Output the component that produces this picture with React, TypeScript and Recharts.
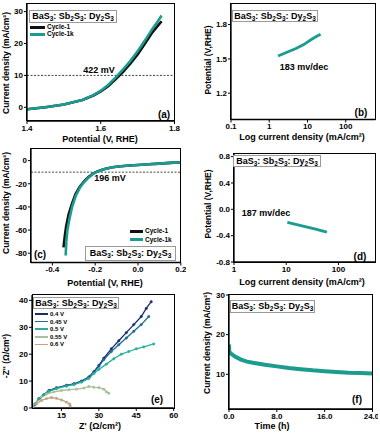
import React from 'react';
import { LineChart, Line, XAxis, YAxis, ReferenceLine } from 'recharts';

const FONT = '"Liberation Sans", Arial, sans-serif';
const TEAL = '#1a9c8f';

// (a) OER polarisation
const oerV = [1.4, 1.45, 1.5, 1.55, 1.58, 1.6, 1.62, 1.64, 1.66, 1.68, 1.7, 1.72, 1.74, 1.755, 1.765];
const oerCycle1 = [-0.6, 0.0, 0.9, 2.3, 3.7, 5.0, 6.6, 8.8, 11.0, 13.7, 16.6, 20.0, 23.5, 25.6, 27.0];
const oerCycle1k = [-0.6, 0.0, 0.9, 2.3, 3.8, 5.2, 7.0, 9.3, 11.8, 14.5, 17.6, 21.0, 24.6, 27.0, 28.8];

// (b) OER Tafel
const tafelOerJ = [1.7, 3, 5, 8, 12, 17, 22];
const tafelOerV = [1.525, 1.56, 1.59, 1.625, 1.665, 1.695, 1.715];

// (c) HER polarisation
const herVk = [-0.338, -0.335, -0.33, -0.32, -0.308, -0.29, -0.27, -0.254, -0.23, -0.21, -0.19, -0.16, -0.12, -0.08, -0.04, 0.0, 0.05, 0.1, 0.15, 0.2];
const herCycle1k = [-82, -70, -60, -50, -40, -30, -23, -19, -14.5, -11.5, -9.5, -7.5, -5.8, -4.9, -4.3, -3.8, -3.2, -2.6, -2.0, -1.5];
const herV1 = [-0.348, -0.342, -0.336, -0.325, -0.31, -0.292, -0.272, -0.25, -0.23, -0.21, -0.19, -0.16, -0.12, -0.08, -0.04, 0.0, 0.05, 0.1, 0.15, 0.2];
const herCycle1 = [-75, -65, -57, -47, -38, -29, -22.5, -17.5, -14, -11.3, -9.4, -7.5, -5.8, -4.9, -4.3, -3.8, -3.2, -2.6, -2.0, -1.5];

// (d) HER Tafel
const tafelHerJ = [10.5, 20, 35, 60];
const tafelHerV = [-0.198, -0.25, -0.298, -0.345];

// (e) Nyquist, [Z', -Z'']
const nyq04 = [[3.5, 0], [4.5, 1.5], [6, 3.5], [8, 5], [10, 6.5], [13, 7.5], [17, 8.4], [20, 9], [23, 10], [26, 11.5], [28, 13.5], [30, 15.8], [32, 18.5], [35, 22], [38, 25], [41, 28], [44, 31], [47, 34], [49, 37], [51, 39.5]];
const nyq045 = [[3.5, 0], [4.5, 1.5], [6, 3.5], [8, 5], [10, 6.4], [13, 7.4], [17, 8.3], [20, 8.9], [23, 9.9], [26, 11.4], [28, 13.3], [30, 15.5], [32, 18], [35, 21], [38, 23.5], [41, 26], [44, 28.5], [47, 31], [50, 34]];
const nyq05 = [[3.5, 0], [4.5, 1.4], [6, 3.4], [8, 4.9], [10, 6.2], [13, 7.2], [17, 8.1], [20, 8.7], [23, 9.6], [26, 11], [28, 12.8], [30, 14.3], [33, 16.3], [36, 18.3], [39, 20], [42, 21], [45, 22], [48, 22.7], [52, 23.8]];
const nyq055 = [[3.5, 0], [5, 2], [7, 4], [9, 5.2], [12, 6], [15, 6.5], [18, 6.8], [21, 7], [24, 7.4], [26, 8], [28, 7.7], [30, 7.6], [32, 7], [33, 6], [34, 5.5]];
const nyq06 = [[3.5, 0], [5, 1.5], [7, 2.8], [9, 3.5], [11, 3.9], [13, 3.6], [15, 3], [17, 2.2], [18.3, 1.5], [18.5, 0.8]];

// (f) stability
const stabT = [0, 0.05, 0.5, 1, 2, 3, 4, 6, 8, 10, 12, 14, 16, 18, 20, 22, 24];
const stabJ = [17.5, 15.6, 15, 14.5, 13.7, 13.2, 12.9, 12.4, 12, 11.6, 11.3, 11, 10.8, 10.6, 10.4, 10.3, 10.2];

const nyqSeries = [
  { name: '0.4 V', pts: nyq04, color: '#1b2d6e' },
  { name: '0.45 V', pts: nyq045, color: '#1f6c98' },
  { name: '0.5 V', pts: nyq05, color: '#2bb09e' },
  { name: '0.55 V', pts: nyq055, color: '#a3c29a' },
  { name: '0.6 V', pts: nyq06, color: '#c2a385' },
];

const zip = (xs: number[], ys: number[]) => xs.map((x, i) => ({ x, y: ys[i] }));
const pairs = (p: number[][]) => p.map(([x, y]) => ({ x, y }));

type Rect = { l: number; t: number; r: number; b: number };
const YW = 30, MT = 4, MR = 6, XH = 20;

const tickStyle = { fontSize: 8, fontWeight: 700, fill: '#000', fontFamily: FONT };
const axisProps = {
  tick: tickStyle,
  tickSize: 3,
  tickMargin: 1,
  axisLine: { stroke: '#000', strokeWidth: 1.3 },
  tickLine: { stroke: '#000', strokeWidth: 1 },
  allowDataOverflow: true,
};
const f1 = (v: number) => v.toFixed(1);

function Panel({ rect, children }: { rect: Rect; children: React.ReactNode }) {
  const w = rect.r - rect.l + YW + MR;
  const h = rect.b - rect.t + MT + XH;
  return (
    <>
      <div style={{ position: 'absolute', left: rect.l - YW, top: rect.t - MT }}>
        <LineChart width={w} height={h} margin={{ top: MT, right: MR, left: 0, bottom: 0 }}>
          {children}
        </LineChart>
      </div>
      <div
        style={{
          position: 'absolute',
          left: rect.l - 0.65,
          top: rect.t - 0.65,
          width: rect.r - rect.l + 1.3,
          height: rect.b - rect.t + 1.3,
          border: '1.3px solid #000',
          boxSizing: 'border-box',
          pointerEvents: 'none',
        }}
      />
    </>
  );
}

function T({ x, y, size = 9, rot = false, left = false, children }: { x: number; y: number; size?: number; rot?: boolean; left?: boolean; children: React.ReactNode }) {
  return (
    <div
      style={{
        position: 'absolute',
        left: x,
        top: y,
        transform: `translate(${left ? '0' : '-50%'},-50%)${rot ? ' rotate(-90deg)' : ''}`,
        fontFamily: FONT,
        fontWeight: 700,
        fontSize: size,
        lineHeight: 1,
        whiteSpace: 'nowrap',
        color: '#000',
      }}
    >
      {children}
    </div>
  );
}

const sub = { fontSize: '0.72em', verticalAlign: '-0.25em' };
function Chem() {
  return (
    <span>
      BaS<span style={sub}>3</span>: Sb<span style={sub}>2</span>S<span style={sub}>3</span>: Dy<span style={sub}>2</span>S<span style={sub}>3</span>
    </span>
  );
}

function Box({ x, y, w, h }: { x: number; y: number; w: number; h: number }) {
  return (
    <div
      style={{
        position: 'absolute',
        left: x,
        top: y,
        width: w,
        height: h,
        border: '1px solid #9a9a9a',
        background: '#fff',
        boxSizing: 'border-box',
        fontFamily: FONT,
        fontWeight: 700,
        fontSize: 9,
        display: 'flex',
        alignItems: 'center',
        justifyContent: 'center',
        whiteSpace: 'nowrap',
      }}
    >
      <Chem />
    </div>
  );
}

function Key({ x, y, color, label, w = 15, th = 3, size = 6.5 }: { x: number; y: number; color: string; label: string; w?: number; th?: number; size?: number }) {
  return (
    <>
      <div style={{ position: 'absolute', left: x, top: y - th / 2, width: w, height: th, background: color }} />
      <T x={x + w + 2} y={y} size={size} left>
        {label}
      </T>
    </>
  );
}

const A: Rect = { l: 26.5, t: 3.5, r: 174, b: 120.5 };
const B: Rect = { l: 230.5, t: 4, r: 375, b: 119.5 };
const C: Rect = { l: 30.5, t: 148.5, r: 180.3, b: 262 };
const D: Rect = { l: 234, t: 154, r: 375, b: 262 };
const E: Rect = { l: 32.3, t: 295, r: 174, b: 408 };
const F: Rect = { l: 228.5, t: 295, r: 372, b: 409 };

export default function App() {
  return (
    <div style={{ position: 'absolute', left: 0, top: 0, width: 380, height: 434, background: '#fff', overflow: 'hidden' }}>
      {/* (a) */}
      <Panel rect={A}>
        <XAxis type="number" dataKey="x" domain={[1.4, 1.8]} ticks={[1.4, 1.6, 1.8]} tickFormatter={f1} height={XH} {...axisProps} />
        <YAxis type="number" dataKey="y" domain={[-4.3, 32.4]} ticks={[0, 10, 20, 30]} width={YW} {...axisProps} />
        <ReferenceLine y={10} stroke="#444" strokeDasharray="2 1.5" strokeWidth={1} />
        <Line data={zip(oerV, oerCycle1)} dataKey="y" stroke="#111" strokeWidth={2.6} dot={false} isAnimationActive={false} />
        <Line data={zip(oerV, oerCycle1k)} dataKey="y" stroke={TEAL} strokeWidth={2.6} dot={false} isAnimationActive={false} />
      </Panel>
      <T x={6} y={63} size={8.5} rot>Current density (mA/cm²)</T>
      <T x={100} y={139}>Potential (V, RHE)</T>
      <Box x={29} y={10} w={88} h={13} />
      <Key x={30} y={27} color="#111" label="Cycle-1" />
      <Key x={30} y={34} color={TEAL} label="Cycle-1k" />
      <T x={99} y={70}>422 mV</T>
      <T x={164} y={115} size={10}>(a)</T>

      {/* (b) */}
      <Panel rect={B}>
        <XAxis type="number" dataKey="x" scale="log" domain={[0.1, 600]} ticks={[0.1, 1, 10, 100]} tickFormatter={(v: number) => String(v)} height={XH} {...axisProps} />
        <YAxis type="number" dataKey="y" domain={[0.97, 1.98]} ticks={[1.2, 1.5, 1.8]} tickFormatter={f1} width={YW} {...axisProps} />
        <Line data={zip(tafelOerJ, tafelOerV)} dataKey="y" stroke={TEAL} strokeWidth={2.8} dot={false} isAnimationActive={false} />
      </Panel>
      <T x={208} y={60} size={8.5} rot>Potential (V,RHE)</T>
      <T x={302} y={137}>Log current density (mA/cm²)</T>
      <Box x={232} y={10} w={86} h={12} />
      <T x={304} y={67}>183 mv/dec</T>
      <T x={361} y={113} size={10}>(b)</T>

      {/* (c) */}
      <Panel rect={C}>
        <XAxis type="number" dataKey="x" domain={[-0.5, 0.2]} ticks={[-0.4, -0.2, 0, 0.2]} tickFormatter={f1} height={XH} {...axisProps} />
        <YAxis type="number" dataKey="y" domain={[-88, 10]} ticks={[-80, -60, -40, -20, 0]} width={YW} {...axisProps} />
        <ReferenceLine y={-10} stroke="#444" strokeDasharray="2 1.5" strokeWidth={1} />
        <Line data={zip(herV1, herCycle1)} dataKey="y" stroke="#111" strokeWidth={2.6} dot={false} isAnimationActive={false} />
        <Line data={zip(herVk, herCycle1k)} dataKey="y" stroke={TEAL} strokeWidth={2.6} dot={false} isAnimationActive={false} />
      </Panel>
      <T x={6} y={203} size={8.5} rot>Current density (mA/cm²)</T>
      <T x={105} y={283}>Potential (V, RHE)</T>
      <Key x={130} y={231} w={13} color="#111" label="Cycle-1" />
      <Key x={130} y={239.5} w={13} color={TEAL} label="Cycle-1k" />
      <Box x={85} y={246} w={91} h={14.5} />
      <T x={110} y={178}>196 mV</T>
      <T x={40} y={255} size={10}>(c)</T>

      {/* (d) */}
      <Panel rect={D}>
        <XAxis type="number" dataKey="x" scale="log" domain={[1, 500]} ticks={[1, 10, 100]} tickFormatter={(v: number) => String(v)} height={XH} {...axisProps} />
        <YAxis type="number" dataKey="y" domain={[-0.8, 0.84]} ticks={[-0.8, -0.4, 0, 0.4, 0.8]} tickFormatter={f1} width={YW} {...axisProps} />
        <Line data={zip(tafelHerJ, tafelHerV)} dataKey="y" stroke={TEAL} strokeWidth={2.8} dot={false} isAnimationActive={false} />
      </Panel>
      <T x={208} y={204} size={8.5} rot>Potential (V,RHE)</T>
      <T x={302} y={282}>Log current density (mA/cm²)</T>
      <Box x={233} y={155} w={88} h={12} />
      <T x={266} y={213}>187 mv/dec</T>
      <T x={360} y={257} size={10}>(d)</T>

      {/* (e) */}
      <Panel rect={E}>
        <XAxis type="number" dataKey="x" domain={[3.2, 60]} ticks={[15, 30, 45, 60]} height={XH} {...axisProps} />
        <YAxis type="number" dataKey="y" domain={[0, 42]} ticks={[0, 10, 20, 30, 40]} width={YW} {...axisProps} />
        {nyqSeries.map((s) => (
          <Line
            key={s.name}
            data={pairs(s.pts)}
            dataKey="y"
            stroke={s.color}
            strokeWidth={1.3}
            dot={{ r: 1.2, fill: s.color, stroke: s.color, strokeWidth: 0.5 }}
            isAnimationActive={false}
          />
        ))}
      </Panel>
      <T x={6} y={356} size={8.5} rot>-Z'' (Ω/cm²)</T>
      <T x={100} y={426}>Z' (Ω/cm²)</T>
      <Box x={33} y={297} w={86} h={12} />
      {nyqSeries.map((s, i) => (
        <Key key={s.name} x={35} y={314 + i * 7.6} w={13} th={1.6} size={6} color={s.color} label={s.name} />
      ))}
      <T x={157} y={400} size={10}>(e)</T>

      {/* (f) */}
      <Panel rect={F}>
        <XAxis type="number" dataKey="x" domain={[0, 24]} ticks={[0, 8, 16, 24]} tickFormatter={f1} height={XH} {...axisProps} />
        <YAxis type="number" dataKey="y" domain={[1.25, 30]} ticks={[10, 20, 30]} width={YW} {...axisProps} />
        <Line data={zip(stabT, stabJ)} dataKey="y" stroke={TEAL} strokeWidth={4} dot={false} isAnimationActive={false} />
      </Panel>
      <T x={207} y={343} size={8.5} rot>Current density (mA/cm²)</T>
      <T x={272} y={426}>Time (h)</T>
      <Box x={230} y={300} w={85} h={13} />
      <T x={357} y={400} size={10}>(f)</T>
    </div>
  );
}
